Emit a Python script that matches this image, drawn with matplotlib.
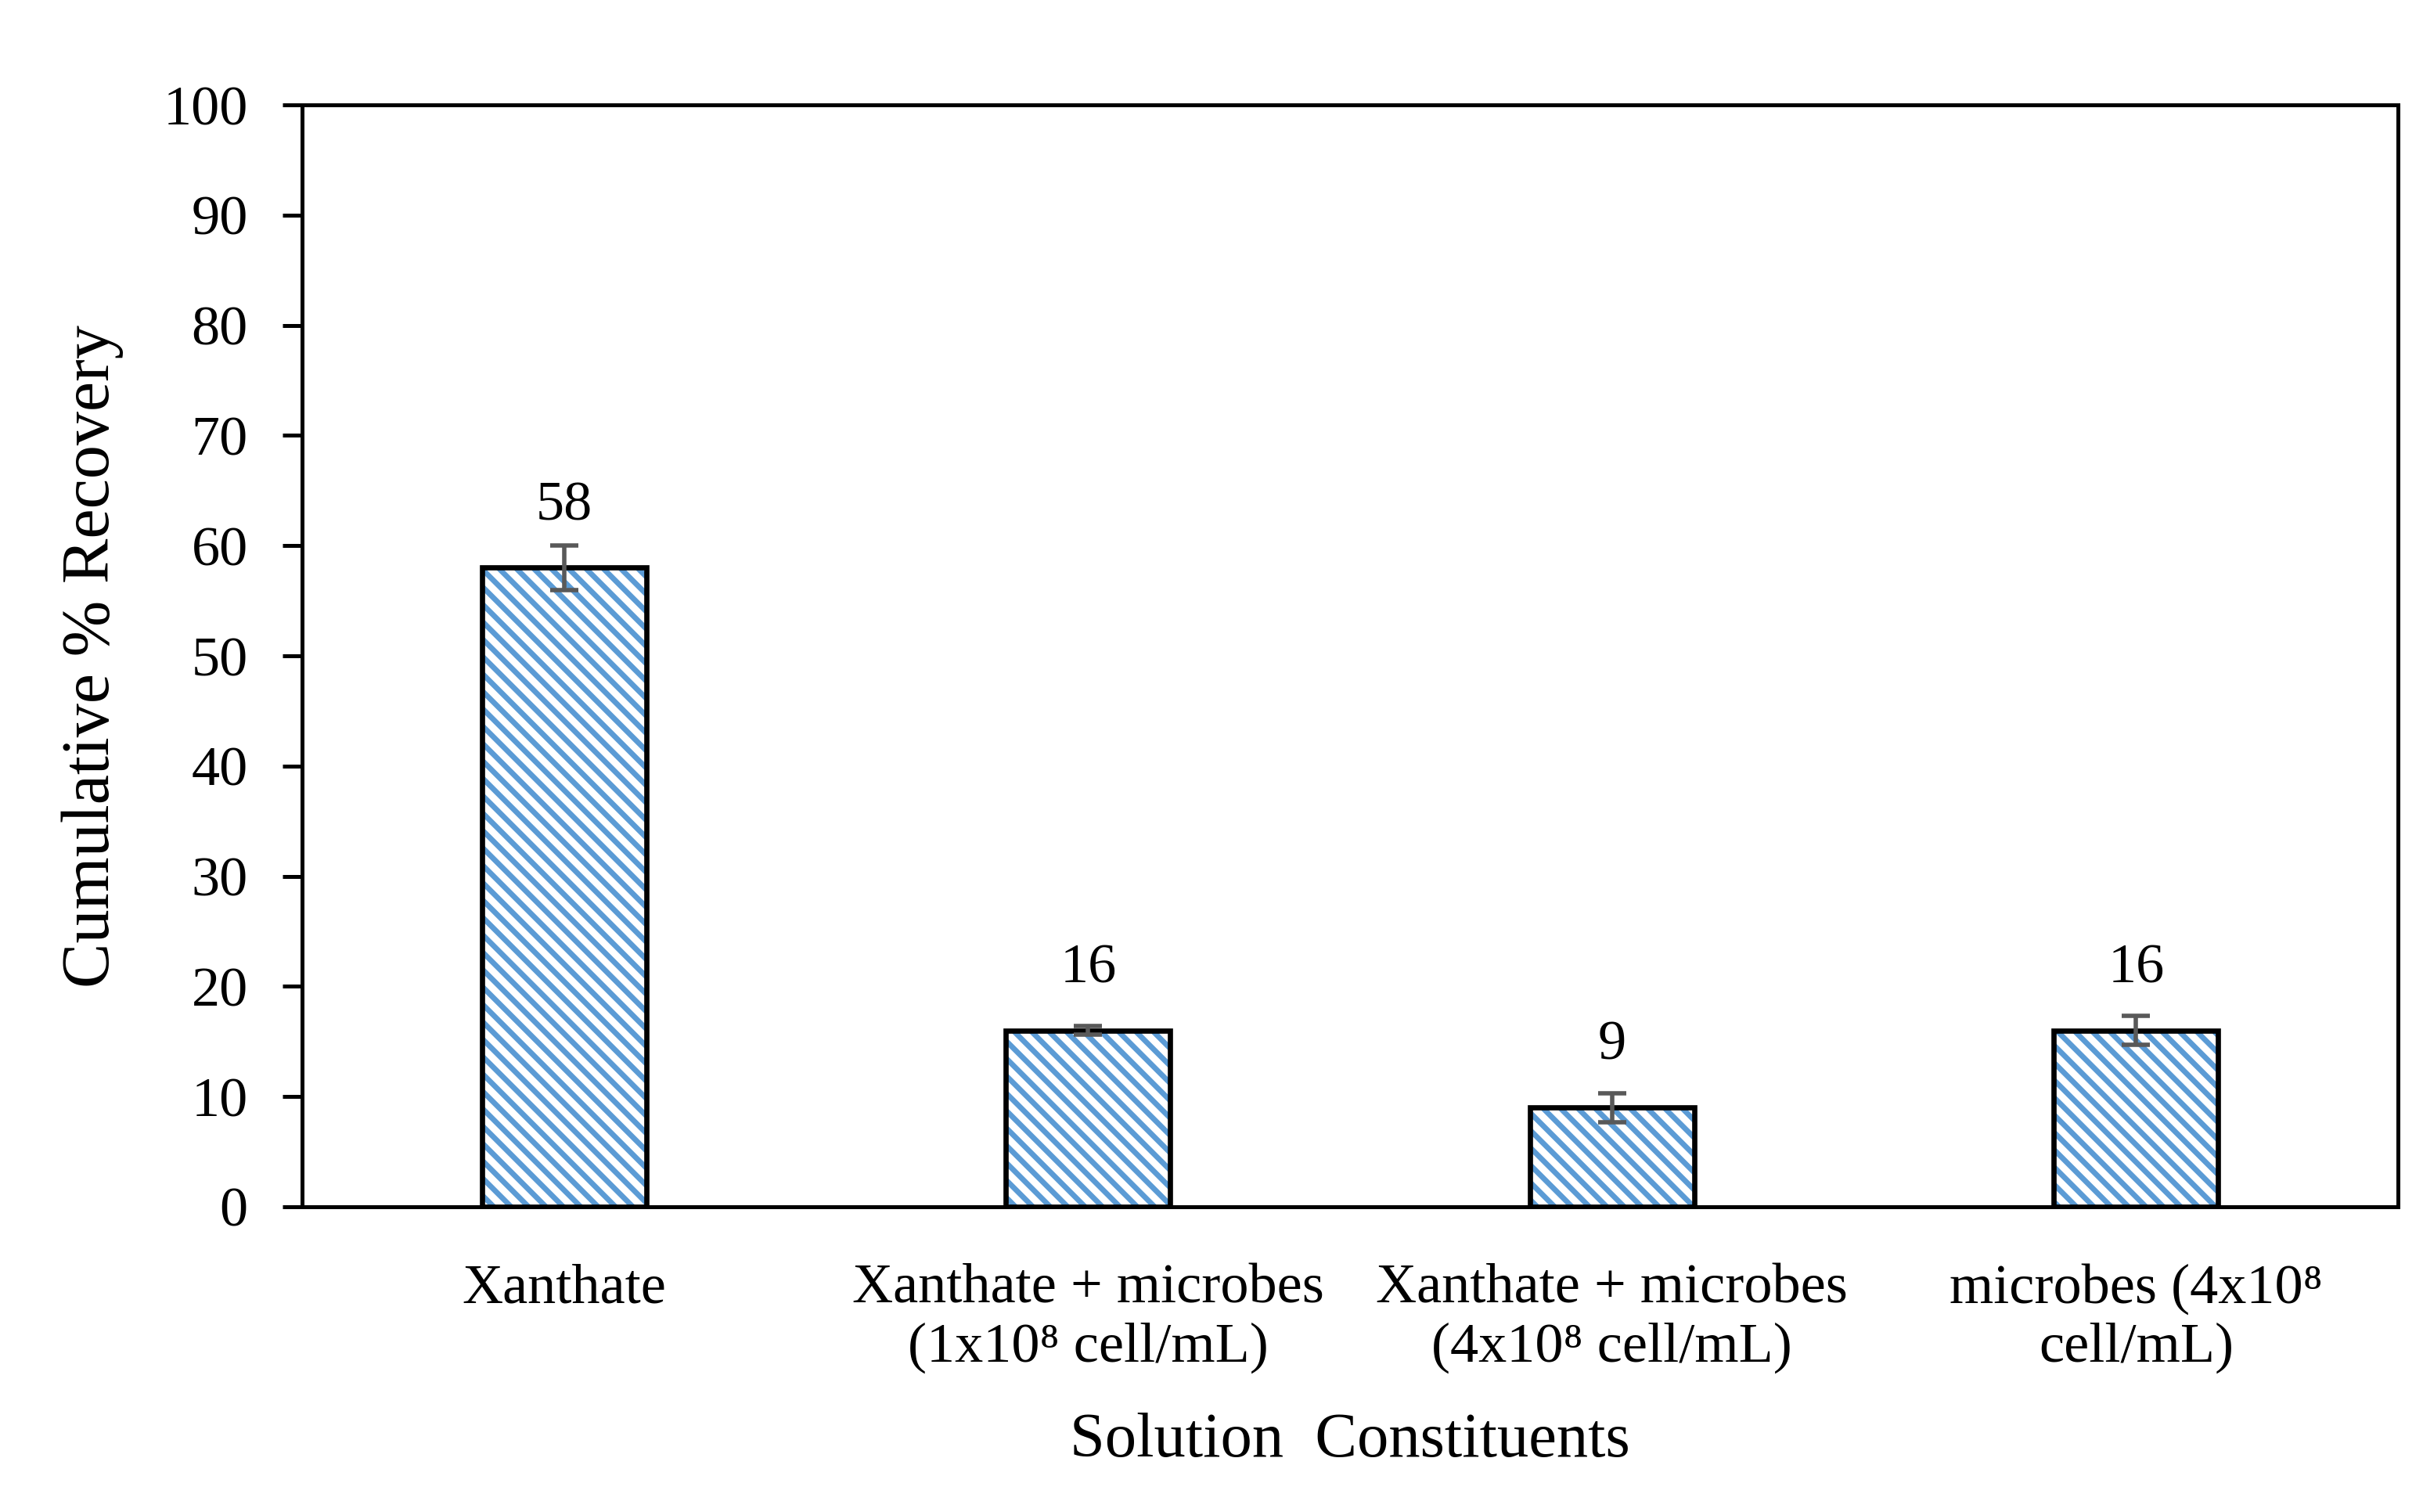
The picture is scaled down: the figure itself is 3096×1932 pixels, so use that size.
import matplotlib
matplotlib.use("Agg")
import matplotlib.pyplot as plt

# data
categories = [
    "Xanthate",
    "Xanthate + microbes\n(1x10\u2078 cell/mL)",
    "Xanthate + microbes\n(4x10\u2078 cell/mL)",
    "microbes (4x10\u2078\ncell/mL)",
]
recovery = [58, 16, 9, 16]
errors = [2.0, 0.4, 1.3, 1.3]
yticks = list(range(0, 101, 10))

plt.rcParams['font.family'] = ['Liberation Serif', 'DejaVu Serif']
plt.rcParams['hatch.linewidth'] = 2.5

fig = plt.figure(figsize=(15.48, 9.66), dpi=200)
ax = fig.add_axes([0.1247, 0.2019, 0.865, 0.7287])

x = list(range(len(categories)))
# blue hatch fill, then black outline on top
ax.bar(x, recovery, width=0.314, color='white', edgecolor='#5B9BD5',
       linewidth=0, hatch='\\\\\\', zorder=2)
ax.bar(x, recovery, width=0.314, fill=False, edgecolor='black',
       linewidth=2.4, zorder=2.5)
ax.errorbar(x, recovery, yerr=errors, fmt='none', ecolor='#595959',
            elinewidth=2.0, capsize=6.5, capthick=2.0, zorder=3)

for xi, v in zip(x, recovery):
    ax.text(xi, v + 5.6, str(v), ha='center', va='center', fontsize=26)

ax.set_xlim(-0.5, len(categories) - 0.5)
ax.set_ylim(0, 100)
ax.set_yticks(yticks)
ax.set_xticks(x)
ax.set_xticklabels(categories, fontsize=26, multialignment='center')
ax.tick_params(axis='y', length=9, width=1.8, pad=16, labelsize=26)
ax.tick_params(axis='x', length=0, pad=26)
for s in ax.spines.values():
    s.set_linewidth(1.8)

ax.set_ylabel('Cumulative % Recovery', fontsize=31, labelpad=18)
ax.set_xlabel('Solution  Constituents', fontsize=29, labelpad=18)

fig.savefig('out.png', dpi=200)
